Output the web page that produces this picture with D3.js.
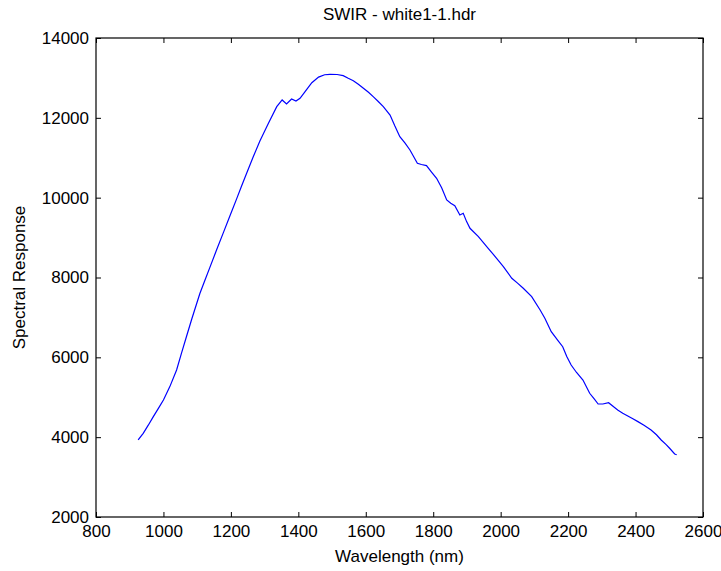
<!DOCTYPE html>
<html>
<head>
<meta charset="utf-8">
<script src="https://cdn.jsdelivr.net/npm/d3@7"></script>
<style>
  body { margin: 0; background: #fff; }
  svg text { font-family: Arial, "Liberation Sans", Helvetica, sans-serif; fill: #000; }
</style>
</head>
<body>
<div id="chart"></div>
<script>
// spectrum (nm, response)
const wavelength = [925, 940, 955, 970, 985, 1000, 1019, 1039, 1054, 1069, 1084, 1108, 1123, 1138, 1158, 1178, 1197, 1217, 1232, 1247, 1266, 1286, 1311, 1336, 1352, 1365, 1380, 1393, 1405, 1420, 1440, 1460, 1478, 1494, 1515, 1533, 1548, 1563, 1578, 1593, 1608, 1622, 1637, 1652, 1672, 1686, 1701, 1716, 1731, 1753, 1765, 1780, 1795, 1810, 1825, 1840, 1852, 1864, 1879, 1889, 1899, 1909, 1934, 1963, 1988, 2008, 2033, 2050, 2067, 2092, 2117, 2131, 2150, 2170, 2184, 2196, 2209, 2225, 2244, 2264, 2278, 2289, 2303, 2320, 2335, 2347, 2362, 2377, 2392, 2407, 2425, 2446, 2462, 2476, 2490, 2501, 2516, 2522];
const response = [3930, 4097, 4300, 4514, 4720, 4932, 5266, 5683, 6120, 6540, 6960, 7600, 7930, 8260, 8700, 9130, 9540, 9970, 10300, 10620, 11020, 11420, 11860, 12280, 12447, 12347, 12472, 12422, 12489, 12655, 12881, 13020, 13080, 13090, 13085, 13056, 12990, 12930, 12840, 12740, 12640, 12530, 12410, 12280, 12071, 11800, 11528, 11370, 11194, 10861, 10830, 10802, 10640, 10485, 10250, 9942, 9860, 9800, 9566, 9608, 9400, 9233, 9023, 8732, 8481, 8272, 7981, 7860, 7730, 7520, 7186, 6978, 6642, 6420, 6266, 6020, 5808, 5620, 5432, 5099, 4950, 4831, 4831, 4864, 4760, 4681, 4600, 4531, 4460, 4389, 4300, 4180, 4060, 3930, 3820, 3722, 3579, 3560];

const xTicks = [800, 1000, 1200, 1400, 1600, 1800, 2000, 2200, 2400, 2600];
const yTicks = [2000, 4000, 6000, 8000, 10000, 12000, 14000];

const title = "SWIR - white1-1.hdr";
const xLabel = "Wavelength (nm)";
const yLabel = "Spectral Response";

const W = 721, H = 571;
const margin = {top: 38, right: 18, bottom: 54, left: 96};
const width = W - margin.left - margin.right;
const height = H - margin.top - margin.bottom;

const svg = d3.select("#chart").append("svg")
  .attr("width", W)
  .attr("height", H);

const g = svg.append("g")
  .attr("transform", `translate(${margin.left},${margin.top})`);

const x = d3.scaleLinear().domain([800, 2600]).range([0, width]);
const y = d3.scaleLinear().domain([2000, 14000]).range([height, 0]);

// matlab style axes: inward ticks on all four sides
const tickLen = 5;
const fontSize = "17px";

g.append("g")
  .attr("transform", `translate(0,${height})`)
  .call(d3.axisBottom(x).tickValues(xTicks).tickSize(-tickLen).tickPadding(tickLen + 3).tickFormat(d3.format("d")))
  .call(a => a.select(".domain").remove())
  .selectAll("text").style("font-size", fontSize).attr("font-family", null);

g.append("g")
  .call(d3.axisTop(x).tickValues(xTicks).tickSize(-tickLen).tickFormat(""))
  .call(a => a.select(".domain").remove());

g.append("g")
  .call(d3.axisLeft(y).tickValues(yTicks).tickSize(-tickLen).tickPadding(tickLen + 2).tickFormat(d3.format("d")))
  .call(a => a.select(".domain").remove())
  .selectAll("text").style("font-size", fontSize).attr("font-family", null);

g.append("g")
  .attr("transform", `translate(${width},0)`)
  .call(d3.axisRight(y).tickValues(yTicks).tickSize(-tickLen).tickFormat(""))
  .call(a => a.select(".domain").remove());

g.selectAll(".tick line").attr("stroke", "#000");

// box
g.append("rect")
  .attr("width", width)
  .attr("height", height)
  .attr("fill", "none")
  .attr("stroke", "#000")
  .attr("stroke-width", 1.2);

const pts = wavelength.map((w, i) => [w, response[i]]);

g.append("path")
  .datum(pts)
  .attr("fill", "none")
  .attr("stroke", "#0000ff")
  .attr("stroke-width", 1.2)
  .attr("d", d3.line().x(d => x(d[0])).y(d => y(d[1])));

// labels
svg.append("text")
  .attr("x", margin.left + width / 2)
  .attr("y", 20)
  .attr("text-anchor", "middle")
  .style("font-size", fontSize)
  .text(title);

svg.append("text")
  .attr("x", margin.left + width / 2)
  .attr("y", 562)
  .attr("text-anchor", "middle")
  .style("font-size", fontSize)
  .text(xLabel);

svg.append("text")
  .attr("transform", `translate(25,${margin.top + height / 2}) rotate(-90)`)
  .attr("text-anchor", "middle")
  .style("font-size", fontSize)
  .text(yLabel);
</script>
</body>
</html>
